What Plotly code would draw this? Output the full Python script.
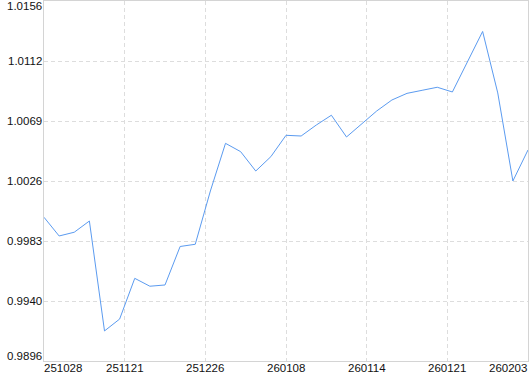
import plotly.graph_objects as go

values = [0.99998, 0.99863, 0.99890, 0.99971, 0.99177, 0.99263, 0.99557, 0.99500,
          0.99509, 0.99787, 0.99803, 1.00188, 1.00532, 1.00472, 1.00332, 1.00436,
          1.00590, 1.00585, 1.00664, 1.00735, 1.00578, 1.00672, 1.00766, 1.00845,
          1.00893, 1.00915, 1.00937, 1.00903, 1.01127, 1.01340, 1.00896, 1.00260,
          1.00484]
x_idx = list(range(len(values)))

x_tick_labels = ["251028", "251121", "251226", "260108", "260114", "260121", "260203"]
y_tick_labels = ["0.9896", "0.9940", "0.9983", "1.0026", "1.0069", "1.0112", "1.0156"]
y_min, y_max = 0.9896, 1.0156

n = len(values) - 1
x_tick_pos = [i * n / (len(x_tick_labels) - 1) for i in range(len(x_tick_labels))]
y_tick_pos = [y_min + i * (y_max - y_min) / (len(y_tick_labels) - 1) for i in range(len(y_tick_labels))]

font = dict(family="Liberation Sans, Arial, sans-serif", size=11.5, color="#111")

fig = go.Figure()
fig.add_trace(go.Scatter(x=x_idx, y=values, mode="lines",
                         line=dict(color="#5b9bf0", width=1), hoverinfo="skip"))

annotations = []
for i, (p, t) in enumerate(zip(x_tick_pos, x_tick_labels)):
    last = len(x_tick_labels) - 1
    anchor = "left" if i == 0 else ("right" if i == last else "center")
    xs = -2 if i == 0 else (1 if i == last else 0)
    annotations.append(dict(x=p, y=0, xref="x", yref="paper", text=t, showarrow=False,
                            xanchor=anchor, yanchor="top", xshift=xs, yshift=1, font=font))
for i, (p, t) in enumerate(zip(y_tick_pos, y_tick_labels)):
    ys = 5 if i == 0 else (-5 if i == len(y_tick_labels) - 1 else 0)
    annotations.append(dict(x=0, y=p, xref="paper", yref="y", text=t, showarrow=False,
                            xanchor="right", yanchor="middle", xshift=0, yshift=ys, font=font))

fig.update_layout(
    width=530, height=374,
    margin=dict(l=44, r=2, t=1, b=13),
    paper_bgcolor="white", plot_bgcolor="white",
    showlegend=False,
    annotations=annotations,
    xaxis=dict(range=[0, n], tickvals=x_tick_pos, showticklabels=False,
               showgrid=True, gridcolor="#dddddd", griddash="4px,3px", gridwidth=1,
               showline=True, linecolor="#d4d4d4", linewidth=1, mirror=True,
               zeroline=False, ticks=""),
    yaxis=dict(range=[y_min, y_max], tickvals=y_tick_pos, showticklabels=False,
               showgrid=True, gridcolor="#dddddd", griddash="4px,3px", gridwidth=1,
               showline=True, linecolor="#d4d4d4", linewidth=1, mirror=True,
               zeroline=False, ticks=""),
)

fig.write_html("out.html")
